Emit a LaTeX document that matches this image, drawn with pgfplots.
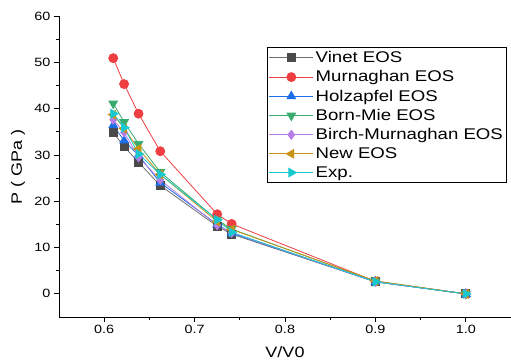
\documentclass[border=0pt]{standalone}
\usepackage{fontspec}
\setmainfont{Liberation Sans}[FakeStretch=1.2]
\usepackage{pgfplots}
\pgfplotsset{compat=1.18}
\definecolor{cvinetl}{HTML}{707070}
\definecolor{cvinet}{HTML}{4A4A4A}
\definecolor{cmurn}{HTML}{EF3E42}
\definecolor{cholz}{HTML}{1C6FE6}
\definecolor{cborn}{HTML}{3AAB6E}
\definecolor{cbirch}{HTML}{B57EE6}
\definecolor{cnew}{HTML}{C99212}
\definecolor{cexp}{HTML}{18C8D0}
\begin{document}
\begin{tikzpicture}
\begin{axis}[
  scale only axis,
  width=452pt, height=301pt,
  at={(59pt,43pt)}, anchor=south west,
  xmin=0.55, xmax=1.05, ymin=-5, ymax=60,
  separate axis lines,
  axis x line=bottom, axis y line=left,
  axis line style={-, line width=0.8pt, black},
  xtick={0.6,0.7,0.8,0.9,1.0},
  minor xtick={0.65,0.75,0.85,0.95},
  ytick={0,10,20,30,40,50,60},
  minor ytick={5,15,25,35,45,55},
  tick align=outside,
  major tick length=5pt, minor tick length=3pt,
  tick style={black, line width=0.8pt},
  xticklabel style={/pgf/number format/.cd, fixed, fixed zerofill, precision=1},
  /pgf/number format/assume math mode=true,
  ticklabel style={font=\fontsize{12}{14}\selectfont},
  xlabel={V/V0},
  ylabel={P ( GPa )},
  label style={font=\fontsize{15}{17}\selectfont},
  xlabel style={at={(axis description cs:0.5,-0.098)}, anchor=north, inner sep=0pt},
  ylabel style={at={(axis description cs:-0.0907,0.5)}, anchor=center, inner sep=0pt},
  legend style={at={(rel axis cs:0.46,0.897)}, anchor=north west,
    draw=black, line width=1pt, font=\fontsize{15.5}{17}\selectfont,
    inner xsep=1.5pt, inner ysep=2pt, row sep=2.5pt},
  legend cell align=left,
  legend image code/.code={\draw[mark repeat=2,mark phase=2] plot coordinates {(0pt,0pt) (22pt,0pt) (44pt,0pt)};},
  every axis plot/.append style={line width=0.8pt},
]
\addplot[color=cvinetl, mark=square*, mark size=4pt, mark options={fill=cvinet, draw=cvinet}] coordinates {
(0.610,34.8) (0.622,31.8) (0.638,28.4) (0.662,23.4) (0.725,14.6) (0.741,12.9) (0.9,2.6) (1.0,0)};
\addlegendentry{Vinet EOS}
\addplot[color=cmurn, mark=*, mark size=4.5pt, mark options={fill=cmurn}] coordinates {
(0.610,50.9) (0.622,45.3) (0.638,38.9) (0.662,30.8) (0.725,17.2) (0.741,15.1) (0.9,2.7) (1.0,0)};
\addlegendentry{Murnaghan EOS}
\addplot[color=cholz, mark=triangle*, mark size=5pt, mark options={fill=cholz}] coordinates {
(0.610,36.4) (0.622,33.1) (0.638,29.9) (0.662,24.0) (0.725,15.0) (0.741,13.1) (0.9,2.6) (1.0,0)};
\addlegendentry{Holzapfel EOS}
\addplot[color=cborn, mark=triangle*, mark size=5pt, mark options={fill=cborn, rotate=180}] coordinates {
(0.610,41.1) (0.622,37.1) (0.638,32.4) (0.662,26.3) (0.725,16.0) (0.741,14.0) (0.9,2.7) (1.0,0)};
\addlegendentry{Born-Mie EOS}
\addplot[color=cbirch, mark=diamond*, mark size=4.5pt, mark options={fill=cbirch}] coordinates {
(0.610,37.6) (0.622,34.9) (0.638,29.5) (0.662,24.6) (0.725,14.8) (0.741,13.2) (0.9,2.6) (1.0,0)};
\addlegendentry{Birch-Murnaghan EOS}
\addplot[color=cnew, mark=triangle*, mark size=5pt, mark options={fill=cnew, rotate=90}] coordinates {
(0.610,38.7) (0.622,35.7) (0.638,31.3) (0.662,25.8) (0.725,15.6) (0.741,13.9) (0.9,2.8) (1.0,0)};
\addlegendentry{New EOS}
\addplot[color=cexp, mark=triangle*, mark size=5pt, mark options={fill=cexp, rotate=-90}] coordinates {
(0.610,38.9) (0.622,35.9) (0.638,30.2) (0.662,25.8) (0.725,16.0) (0.741,13.3) (0.9,2.6) (1.0,0)};
\addlegendentry{Exp.}
\end{axis}
\pgfresetboundingbox
\path[use as bounding box] (0pt,0pt) rectangle (511pt,360pt);
\end{tikzpicture}
\end{document}
